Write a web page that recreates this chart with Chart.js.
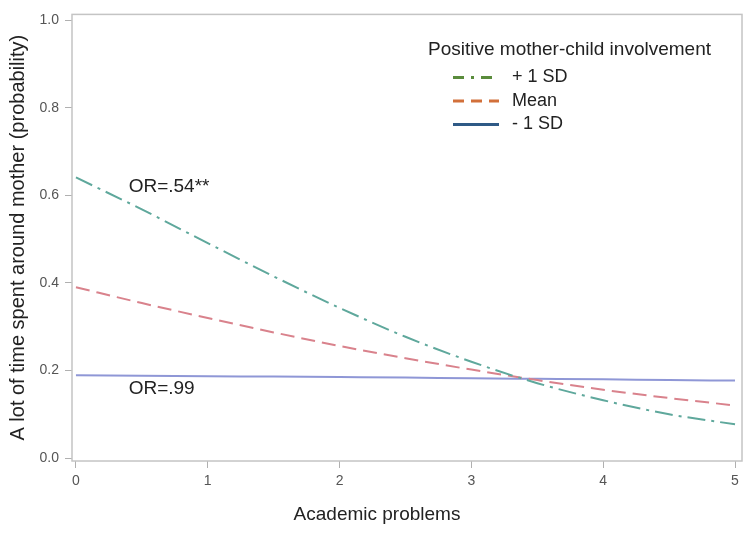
<!DOCTYPE html>
<html>
<head>
<meta charset="utf-8">
<script src="https://cdn.jsdelivr.net/npm/chart.js@4.4.1/dist/chart.umd.min.js"></script>
<style>
  html, body { margin: 0; padding: 0; background: #fff; }
  #wrap { width: 750px; height: 533px; }
</style>
</head>
<body>
<div id="wrap"><canvas id="chart"></canvas></div>
<script>
// values
const academicProblems = [0, 0.5, 1, 1.5, 2, 2.5, 3, 3.5, 4, 4.5, 5];
const plusOneSD  = [0.641, 0.568, 0.491, 0.415, 0.343, 0.277, 0.220, 0.171, 0.132, 0.100, 0.077];
const meanInv    = [0.390, 0.354, 0.320, 0.287, 0.256, 0.228, 0.202, 0.178, 0.156, 0.137, 0.120];
const minusOneSD = [0.189, 0.188, 0.187, 0.186, 0.185, 0.184, 0.182, 0.181, 0.180, 0.178, 0.177];

const seriesNames = ['+ 1 SD', 'Mean', '- 1 SD'];
const legendTitle = 'Positive mother-child involvement';
const xTitle = 'Academic problems';
const yTitle = 'A lot of time spent around mother (probability)';

// OR labels: [text, x value, y value]
const orLabels = [
    ['OR=.54**', 0.40, 0.62],
    ['OR=.99', 0.40, 0.158]
];

const FONT = '"Liberation Sans", Arial, sans-serif';

// line styles on the plot
const lineColors = ['#5fa89c', '#d9828c', '#8f97d6'];
const lineDashes = [[18, 6, 3, 6], [14, 7], []];
// the legend uses darker swatches than the plot lines
const legendColors = ['#5a8c3c', '#d2703a', '#2f5a86'];
const legendDashes = [[11, 7, 3, 7], [11, 7], []];

const toPoints = arr => arr.map((y, i) => ({ x: academicProblems[i], y }));

const extras = {
    id: 'extras',
    afterDraw(chart) {
        const { ctx, chartArea: a, scales } = chart;
        ctx.save();

        // frame around the plot
        ctx.strokeStyle = '#c4c4c4';
        ctx.lineWidth = 1.5;
        ctx.strokeRect(a.left, a.top, a.right - a.left, a.bottom - a.top);

        // OR annotations
        ctx.fillStyle = '#222';
        ctx.font = '19px ' + FONT;
        ctx.textAlign = 'left';
        ctx.textBaseline = 'middle';
        orLabels.forEach(([t, x, y]) => {
            ctx.fillText(t, scales.x.getPixelForValue(x), scales.y.getPixelForValue(y));
        });

        // legend
        const lx = a.right - 314;
        ctx.textBaseline = 'alphabetic';
        ctx.fillText(legendTitle, lx, a.top + 41);
        ctx.font = '18px ' + FONT;
        ctx.textBaseline = 'middle';
        seriesNames.forEach((name, i) => {
            const ry = a.top + 63 + i * 23.5;
            ctx.strokeStyle = legendColors[i];
            ctx.lineWidth = 3;
            ctx.setLineDash(legendDashes[i]);
            ctx.beginPath();
            ctx.moveTo(lx + 25, ry);
            ctx.lineTo(lx + 71, ry);
            ctx.stroke();
            ctx.setLineDash([]);
            ctx.fillText(name, lx + 84, ry);
        });

        // x axis title, sits left of centre in the reference
        ctx.font = '19px ' + FONT;
        ctx.textAlign = 'center';
        ctx.fillText(xTitle, a.left + 305, a.bottom + 54);

        ctx.restore();
    }
};

new Chart(document.getElementById('chart'), {
    type: 'line',
    data: {
        datasets: [plusOneSD, meanInv, minusOneSD].map((arr, i) => ({
            label: seriesNames[i],
            data: toPoints(arr),
            borderColor: lineColors[i],
            borderDash: lineDashes[i],
            borderWidth: 2,
            pointRadius: 0,
            fill: false,
            cubicInterpolationMode: 'monotone'
        }))
    },
    options: {
        responsive: true,
        maintainAspectRatio: false,
        animation: false,
        layout: { padding: { top: 9, right: 8, left: 0, bottom: 0 } },
        plugins: {
            legend: { display: false },
            tooltip: { enabled: false }
        },
        scales: {
            x: {
                type: 'linear',
                min: -0.03,
                max: 5.053,
                afterFit: s => { s.height = 72; },
                grid: { drawOnChartArea: false, color: '#b0b0b0', tickLength: 7 },
                border: { display: false },
                ticks: {
                    stepSize: 1,
                    includeBounds: false,
                    color: '#555',
                    padding: 5,
                    font: { family: FONT, size: 14 },
                    callback: v => String(v)
                }
            },
            y: {
                min: -0.0068,
                max: 1.0135,
                afterFit: s => { s.width = 72; },
                grid: { drawOnChartArea: false, color: '#b0b0b0', tickLength: 7 },
                border: { display: false },
                ticks: {
                    stepSize: 0.2,
                    includeBounds: false,
                    color: '#555',
                    padding: 6,
                    font: { family: FONT, size: 14 },
                    callback: v => v.toFixed(1)
                },
                title: {
                    display: true,
                    text: yTitle,
                    color: '#222',
                    padding: { top: 6, bottom: 0 },
                    font: { family: FONT, size: 20 }
                }
            }
        }
    },
    plugins: [extras]
});
</script>
</body>
</html>
